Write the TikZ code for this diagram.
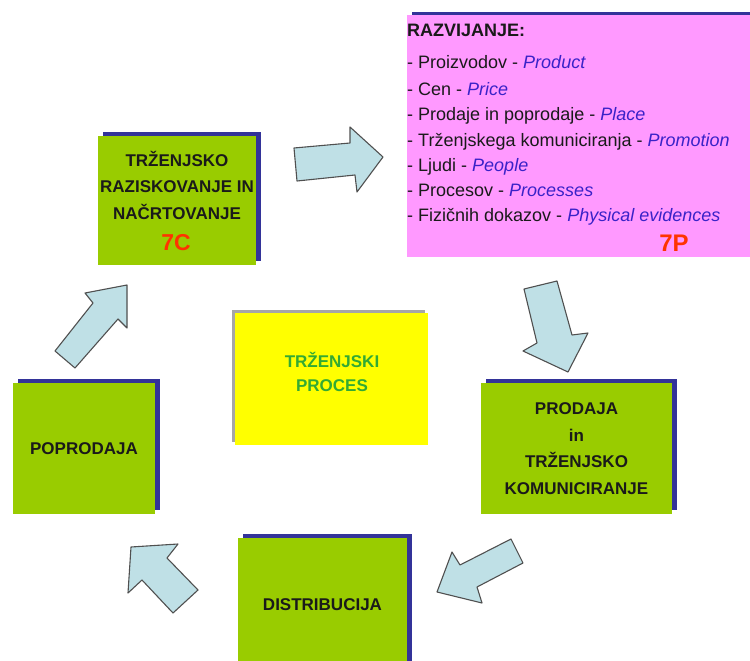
\documentclass[tikz,border=0pt]{standalone}
\usepackage{fontspec}
\setmainfont{Liberation Sans}
\usetikzlibrary{shadows}
\definecolor{gboxc}{HTML}{99CC00}
\definecolor{sblue}{HTML}{333399}
\definecolor{pinkc}{HTML}{FF99FF}
\definecolor{ybox}{HTML}{FFFF00}
\definecolor{gtext}{HTML}{33AA33}
\definecolor{redt}{HTML}{FF3300}
\definecolor{bluet}{HTML}{3A22C8}
\definecolor{arrfill}{HTML}{BFE0E6}
\definecolor{arrline}{HTML}{505050}
\definecolor{darkt}{HTML}{1A1A1A}
\begin{document}
\begin{tikzpicture}[x=1pt,y=-1pt,
  gstep/.style={fill=gboxc, draw=none, inner sep=0pt, align=center,
    drop shadow={shadow xshift=5pt, shadow yshift=4pt, fill=sblue, opacity=1},
    font=\fontsize{17}{26.5}\selectfont\bfseries, text=darkt},
  gtxt/.style={inner sep=0pt, align=center, font=\fontsize{17}{26.5}\selectfont\bfseries, text=darkt},
  ptxt/.style={inner sep=0pt, anchor=base west, font=\fontsize{18}{22}\selectfont, text=darkt},
  redbig/.style={inner sep=0pt, text=redt, font=\fontsize{23}{28}\selectfont\bfseries},
  blockarrow/.style={fill=arrfill, draw=arrline, line width=1.1pt, line join=round}
]
\useasboundingbox (0,0) rectangle (750,661);
\fill[white] (0,0) rectangle (750,661);

% research box
\node[gstep, minimum width=158pt, minimum height=129pt] (rc) at (177,200.5) {};
\node[gtxt] (rct) at (177,185) {TRŽENJSKO\\RAZISKOVANJE IN\\NAČRTOVANJE};
\node[redbig] (c7) at (176,243) {7C};

% development box
\node[fill=pinkc, inner sep=0pt, minimum width=343pt, minimum height=242pt,
  drop shadow={shadow xshift=5pt, shadow yshift=2.5pt, fill=sblue, opacity=1}] (dev) at (578.5,136) {};
\node[ptxt, font=\fontsize{18}{22}\selectfont\bfseries] (l0) at (407,36.5) {RAZVIJANJE:};
\node[ptxt] (l1) at (407,68.5) {- Proizvodov - \textit{\color{bluet}Product}};
\node[ptxt] (l2) at (407,95.5) {- Cen - \textit{\color{bluet}Price}};
\node[ptxt] (l3) at (407,120.5) {- Prodaje in poprodaje - \textit{\color{bluet}Place}};
\node[ptxt] (l4) at (407,146.5) {- Trženjskega komuniciranja - \textit{\color{bluet}Promotion}};
\node[ptxt] (l5) at (407,171.5) {- Ljudi - \textit{\color{bluet}People}};
\node[ptxt] (l6) at (407,196.5) {- Procesov - \textit{\color{bluet}Processes}};
\node[ptxt] (l7) at (407,221.5) {- Fizičnih dokazov - \textit{\color{bluet}Physical evidences}};
\node[redbig, font=\fontsize{24}{28}\selectfont\bfseries] (p7) at (674,243) {7P};

% centre box
\node[fill=ybox, inner sep=0pt, minimum width=193pt, minimum height=132pt,
  drop shadow={shadow xshift=-3pt, shadow yshift=3pt, fill=black!35, opacity=1}] (yp) at (331.5,379) {};
\node[gtxt, text=gtext, font=\fontsize{17}{24}\selectfont\bfseries] (ypt) at (332,372) {TRŽENJSKI\\PROCES};

% other steps
\node[gstep, minimum width=142pt, minimum height=131pt] (pp) at (84,448.5) {POPRODAJA};
\node[gstep, minimum width=191pt, minimum height=131pt] (pk) at (576.5,448.5) {PRODAJA\\in\\TRŽENJSKO\\KOMUNICIRANJE};
\node[gstep, minimum width=169pt, minimum height=134pt] (ds) at (322.5,605) {DISTRIBUCIJA};

% block arrows
\draw[blockarrow] (294,148) -- (350,143) -- (350,127) -- (383,157) -- (357,192) -- (355,175) -- (297,181) -- cycle;
\draw[blockarrow] (524,289) -- (557,281) -- (572,335) -- (588,333) -- (568,372) -- (523,351) -- (537,343) -- cycle;
\draw[blockarrow] (511,539) -- (523,563) -- (477,587) -- (482,603) -- (437,592) -- (452,552) -- (460,565) -- cycle;
\draw[blockarrow] (131,547) -- (178,544) -- (167,558) -- (198,590) -- (173,613) -- (142,580) -- (128,593) -- cycle;
\draw[blockarrow] (55,351) -- (93,303) -- (85,293) -- (127,285) -- (127,328) -- (118,319) -- (75,368) -- cycle;
\end{tikzpicture}
\end{document}
